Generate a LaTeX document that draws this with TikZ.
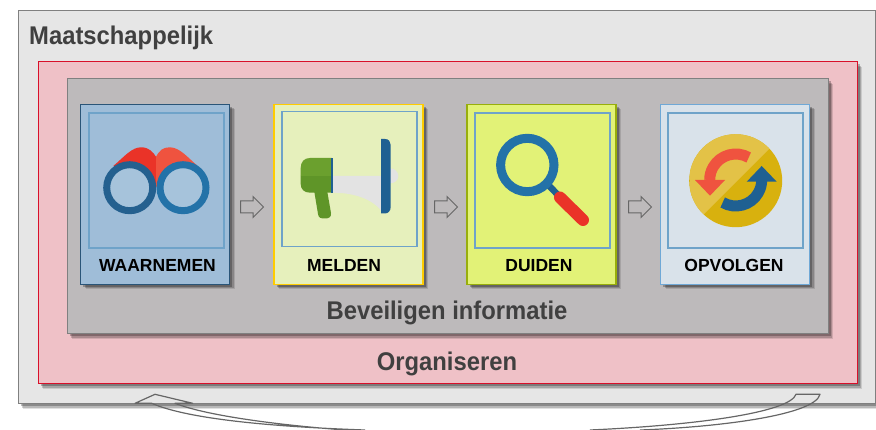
\documentclass[tikz,border=0pt]{standalone}
\usepackage{fontspec}
\setmainfont{Liberation Sans}
\newfontfamily\framefont[FakeStretch=0.93]{Liberation Sans}
\usetikzlibrary{shadows,shapes.arrows}
\definecolor{framegray}{HTML}{808080}
\definecolor{maatfill}{HTML}{E6E6E6}
\definecolor{orgfill}{HTML}{EFC1C7}
\definecolor{orgline}{HTML}{D8102A}
\definecolor{bevfill}{HTML}{BDBABB}
\definecolor{innerline}{HTML}{6FA3C9}
\definecolor{darktext}{HTML}{404040}
\definecolor{ringdark}{HTML}{24608F}
\definecolor{ringlight}{HTML}{2372A8}
\definecolor{redsoft}{HTML}{EF533F}
\definecolor{redhard}{HTML}{EA3328}
\definecolor{greenlight}{HTML}{6BA02E}
\definecolor{greendark}{HTML}{5F9528}
\definecolor{barblue}{HTML}{1F6092}
\definecolor{horngray}{HTML}{E3E3E3}
\definecolor{goldlight}{HTML}{E3C247}
\definecolor{golddark}{HTML}{D8B10E}
\definecolor{waarnemenfill}{HTML}{9FBDD8}
\definecolor{waarnemenline}{HTML}{2A5578}
\definecolor{lensfill}{HTML}{A6C3DB}
\definecolor{meldenfill}{HTML}{E6F0BC}
\definecolor{meldenline}{HTML}{FFCC00}
\definecolor{duidenfill}{HTML}{E2F277}
\definecolor{duidenline}{HTML}{98AE0B}
\definecolor{opvolgenfill}{HTML}{D9E2EA}
\definecolor{opvolgenline}{HTML}{6FA8D6}
\tikzset{
  softshadow/.style={drop shadow={shadow xshift=5pt,shadow yshift=-5pt,opacity=.12,fill=black},
    drop shadow={shadow xshift=4pt,shadow yshift=-4pt,opacity=.18,fill=black},
    drop shadow={shadow xshift=2.5pt,shadow yshift=-2.5pt,opacity=.25,fill=black}},
  frame/.style={draw=framegray,line width=1pt,rectangle,inner sep=0pt,softshadow},
  card/.style={rectangle,line width=1.6pt,minimum width=149pt,minimum height=180pt,inner sep=0pt,softshadow},
  innerbox/.style={draw=innerline,line width=1.2pt,rectangle,minimum width=135pt,minimum height=135pt,inner sep=0pt},
  cardlabel/.style={font=\bfseries\fontsize{17.5}{17.5}\selectfont,text=black,anchor=base},
  framelabel/.style={font=\framefont\bfseries\fontsize{25.6}{25.6}\selectfont,text=darktext},
  steparrow/.style={draw=darktext!80,line width=1pt,single arrow,inner sep=5.5pt,
    single arrow head extend=4.5pt,minimum height=23pt}
}
\begin{document}
\begin{tikzpicture}[x=1pt,y=-1pt]
  \useasboundingbox (0,0) rectangle (876,430);
  % frames
  \node (maat) [frame,fill=maatfill,minimum width=857pt,minimum height=393pt] at (446.5,207.5) {};
  \node (org) [frame,draw=orgline,fill=orgfill,minimum width=819pt,minimum height=322pt] at (447.5,223) {};
  \node (bev) [frame,fill=bevfill,minimum width=761pt,minimum height=255pt] at (447.5,206.5) {};
  \node (maatlabel) [framelabel,anchor=west] at (25.7,38) {Maatschappelijk};
  \node (orglabel) [framelabel] at (447,364) {Organiseren};
  \node (bevlabel) [framelabel] at (447,313) {Beveiligen informatie};
  % cards
  \node (waarnemen) [card,draw=waarnemenline,fill=waarnemenfill] at (155,194.5) {};
  \node (melden) [card,draw=meldenline,fill=meldenfill] at (348.5,194.5) {};
  \node (duiden) [card,draw=duidenline,fill=duidenfill] at (541.5,194.5) {};
  \node (opvolgen) [card,draw=opvolgenline,fill=opvolgenfill] at (735,194.5) {};
  \node (waarnemenbox) [innerbox] at (156.5,180.5) {};
  \node (meldenbox) [innerbox] at (349.5,179) {};
  \node (duidenbox) [innerbox] at (542.5,180.5) {};
  \node (opvolgenbox) [innerbox] at (735.5,180.5) {};
  \node (waarnemenlabel) [cardlabel] at (157.5,272) {WAARNEMEN};
  \node (meldenlabel) [cardlabel] at (344,272) {MELDEN};
  \node (duidenlabel) [cardlabel] at (539,272) {DUIDEN};
  \node (opvolgenlabel) [cardlabel] at (734,272) {OPVOLGEN};
  % arrows between the cards
  \node (arrowa) [steparrow] at (249,207) {};
  \node (arrowb) [steparrow] at (443,207) {};
  \node (arrowc) [steparrow] at (637,207) {};
  % binoculars
  \fill[redhard] (113.3,166) .. controls (125,156) and (132,147) .. (141.7,147.3)
    .. controls (149,147.5) and (153,152) .. (156,156.7) -- (156,187) -- cycle;
  \fill[redsoft] (156,156.7) .. controls (159,151) and (163,147) .. (170,147.3)
    .. controls (180,147.5) and (188,158) .. (196.7,165) -- (156,187) -- cycle;
  \draw[ringdark,line width=7pt,fill=lensfill] (129.7,187.7) circle[radius=23];
  \draw[ringlight,line width=7pt,fill=lensfill] (183,187.7) circle[radius=23];
  % megaphone
  \fill[horngray] (390,168.3) .. controls (395,168.5) and (398.3,172) .. (398.3,176)
    .. controls (398.3,180) and (395,183.3) .. (390,183.3) -- cycle;
  \fill[horngray] (332.7,176) -- (382,176) -- (382,211.7) .. controls (372,198) and (352,192.7) .. (332.7,192.7) -- cycle;
  \fill[greendark] (314,190) -- (327,190) -- (331,213) .. controls (331.5,217) and (329,218.5) .. (325,218.5)
    .. controls (321,218.5) and (318.5,218) .. (318,214) -- cycle;
  \fill[greendark] (300.7,176) -- (331.5,176) -- (331.5,192.7) -- (310,192.7)
    .. controls (304,192.7) and (300.7,189) .. (300.7,184) -- cycle;
  \fill[greenlight] (300.7,176) -- (300.7,168) .. controls (300.7,162) and (304,158) .. (310,158)
    -- (331.5,158) -- (331.5,176) -- cycle;
  \fill[barblue] (331,158) rectangle (333,192.7);
  \fill[barblue] (381,139) -- (385,139) .. controls (389,139) and (390.7,142) .. (390.7,145)
    -- (390.7,207) .. controls (390.7,211) and (388,213.5) .. (385,213.5) -- (381,213.5) -- cycle;
  % magnifier
  \draw[barblue,line width=6.5pt] (546.7,183.3) -- (558,195);
  \draw[redhard,line width=12pt,line cap=round] (560,197.5) -- (583,220);
  \draw[ringlight,line width=9pt] (527.3,165) circle[radius=26.7];
  % sync icon
  \fill[golddark] (735.7,180.7) circle[radius=46.5];
  \begin{scope}
    \clip (735.7,180.7) circle[radius=46.5];
    \fill[goldlight] (690,120) -- (780,138) -- (690,228) -- cycle;
  \end{scope}
  \draw[redsoft,line width=11pt] (748.7,157.5) arc[start angle=-60,end angle=-180,radius=26];
  \fill[redsoft] (695,180) -- (725,180) -- (710,195.7) -- cycle;
  \draw[barblue,line width=11pt] (722.7,202.5) arc[start angle=120,end angle=0,radius=26];
  \fill[barblue] (746.7,181.7) -- (776.7,181.7) -- (761.7,166) -- cycle;
  % curved arrow under the frames
  \draw[darktext!80,line width=1.2pt,line join=round] (365,430) .. controls (280,427) and (190,420) .. (151.7,403.3)
    -- (135,403.3) -- (155,394.3) -- (192.7,403.3) -- (175,403.3) .. controls (210,417) and (290,426) .. (345,430);
  \draw[darktext!80,line width=1.2pt,line join=round] (590,430) .. controls (700,425) and (790,412) .. (796,394.3)
    -- (820,394.3) .. controls (815,415) and (720,427) .. (640,430);
\end{tikzpicture}
\end{document}
